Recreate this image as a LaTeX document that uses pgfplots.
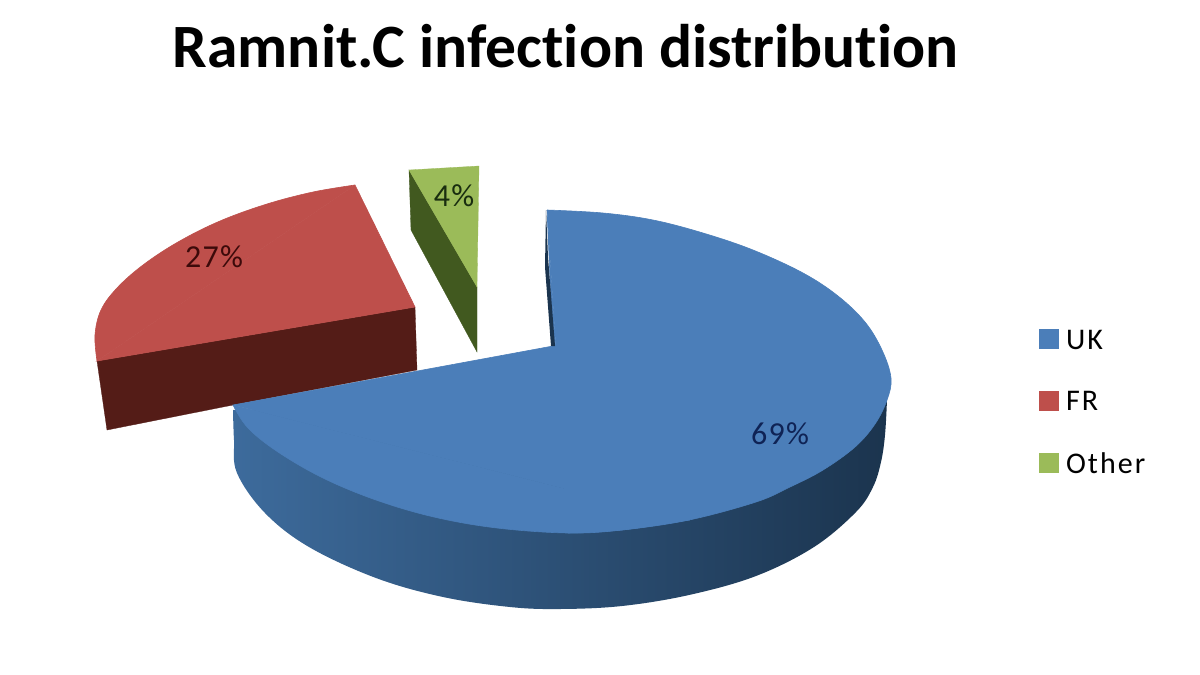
\documentclass[border=0pt]{standalone}
\usepackage{fontspec}
\usepackage{pgfplots}
\pgfplotsset{compat=1.18}
\setmainfont{Carlito}
\newfontfamily\titlefont[Ligatures=NoCommon]{Carlito}
\newfontfamily\legfont[LetterSpace=7]{Carlito}
\newfontfamily\lblfont[LetterSpace=4]{Carlito}
\definecolor{bluetop}{HTML}{4B7EB9}
\definecolor{redtop}{HTML}{BE4F4B}
\definecolor{greentop}{HTML}{9BBB59}
\definecolor{redside}{HTML}{541C17}
\definecolor{greenside}{HTML}{41591F}
\definecolor{blueL}{HTML}{3D6B9C}
\definecolor{blueM}{HTML}{2B4F75}
\definecolor{blueR}{HTML}{1B344E}
\begin{document}
\begin{tikzpicture}
\fill[white] (0,0) rectangle (1200pt,675pt);
\begin{axis}[
  x=1pt,y=1pt,scale only axis,
  xmin=0,xmax=1200,ymin=0,ymax=675,
  y dir=reverse,hide axis,clip=false,
  legend cell align=left,
  legend style={draw=none,fill=none,at={(axis cs:1039,328)},anchor=north west,
    font=\legfont\fontsize{30}{32}\selectfont,row sep=36.5pt,inner sep=0pt,outer sep=0pt},
  legend image code/.code={\fill[#1] (0pt,-9pt) rectangle (20pt,11pt);\path (25pt,0pt);},
]
\addlegendimage{fill=bluetop,draw=none}
\addlegendentry{UK}
\addlegendimage{fill=redtop,draw=none}
\addlegendentry{FR}
\addlegendimage{fill=greentop,draw=none}
\addlegendentry{Other}
% red slice
\addplot[forget plot,fill=redside,draw=redside,line width=0.3pt] coordinates {(97,361)(415,307)(417,370)(233,405)(107,430)} -- cycle;
\addplot[forget plot,fill=redtop,draw=redtop,line width=0.6pt,smooth,tension=0.6] coordinates {(355,185)(313,192)(267,204)(220,221)(178,242)(143,265)(117,288)(101,310)(95,335)(97,361)};
\addplot[forget plot,fill=redtop,draw=redtop,line width=0.6pt] coordinates {(355,185)(415,307)(97,361)} -- cycle;
% green slice
\addplot[forget plot,fill=greenside,draw=greenside,line width=0.3pt] coordinates {(409,170)(477,287)(477,352)(411,230)} -- cycle;
\addplot[forget plot,fill=greentop,draw=greentop,line width=0.3pt] coordinates {(409,170)(479,166)(477,287)} -- cycle;
% blue slice
\addplot[forget plot,draw=none,left color=blueL,middle color=blueM,right color=blueR,smooth,tension=0.6] coordinates {(233,410)(234,440)(237,473)(265,513)(309,547)(376,578)(443,597)(510,607)(560,609)(622,606)(689,595)(756,576)(814,547)(856,512)(873,487)(881,462)(885,435)(887,400)};
\addplot[forget plot,fill=bluetop,draw=bluetop,line width=0.6pt,smooth,tension=0.6] coordinates {(547,210)(603,213)(653,220)(703,233)(753,250)(803,273)(838,296)(865,322)(882,350)(891,378)(887,400)(875,424)(855,447)(823,470)(790,487)(756,502)(689,520)(622,530)(568,533)};
\addplot[forget plot,fill=bluetop,draw=bluetop,line width=0.6pt,smooth,tension=0.6] coordinates {(689,520)(622,530)(568,533)(497,528)(434,517)(376,500)(323,478)(278,452)(248,428)(233,405)};
\addplot[forget plot,fill=bluetop,draw=bluetop,line width=0.6pt] coordinates {(547,210)(553,346)(568,533)} -- cycle;
\addplot[forget plot,fill=bluetop,draw=bluetop,line width=0.6pt] coordinates {(553,346)(233,405)(689,520)} -- cycle;
\addplot[forget plot,fill=blueR,draw=none] coordinates {(546,210)(545,267)(551,346)(555,346)(548,257)} -- cycle;
% text
\node[font=\titlefont\bfseries\fontsize{61.6}{62}\selectfont,text=black] at (axis cs:565.5,46) {Ramnit.C infection distribution};
\node[font=\lblfont\fontsize{32}{32}\selectfont,text={rgb,255:red,15;green,35;blue,85}] at (axis cs:780,434) {69\%};
\node[font=\lblfont\fontsize{32}{32}\selectfont,text={rgb,255:red,60;green,10;blue,10}] at (axis cs:214,257) {27\%};
\node[font=\lblfont\fontsize{32}{32}\selectfont,text={rgb,255:red,25;green,45;blue,15}] at (axis cs:454,196) {4\%};
\end{axis}
\end{tikzpicture}
\end{document}
